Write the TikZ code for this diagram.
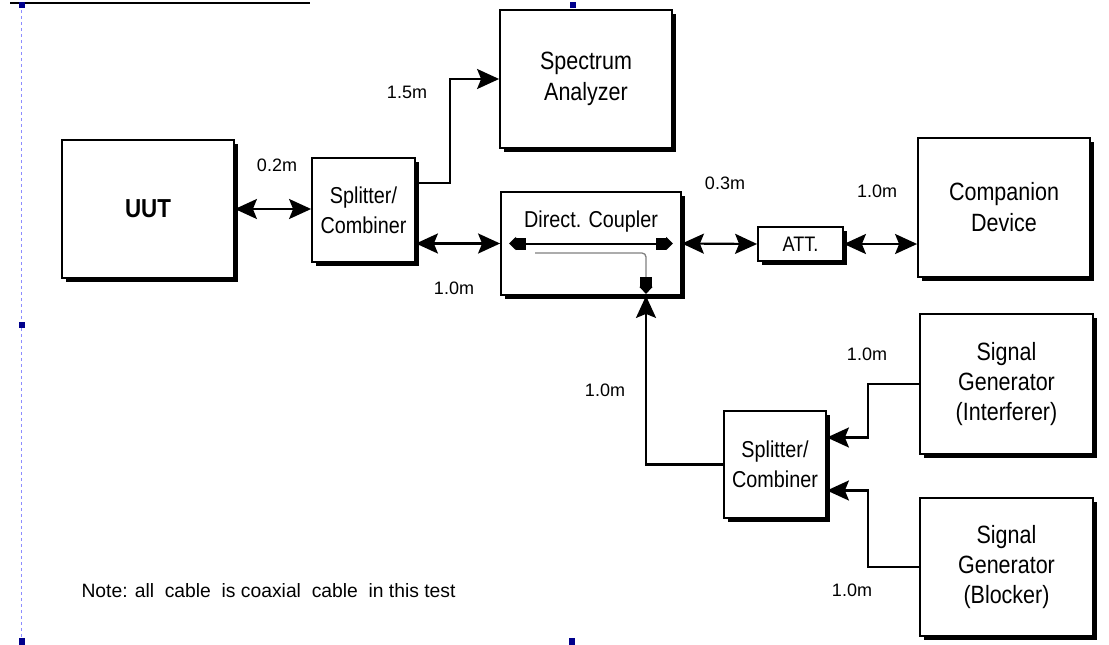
\documentclass[tikz,border=0pt]{standalone}
\usepackage{fontspec}
\setmainfont{Liberation Sans}
\newfontfamily\narrowsf[FakeStretch=0.86]{Liberation Sans}
\usetikzlibrary{arrows.meta,shadows}

\begin{document}
\begin{tikzpicture}[x=1pt,y=-1pt,>={Stealth[length=22pt,width=20pt,inset=4pt]},
  pnt/.tip={Rectangle[length=10pt,width=12pt]Triangle[length=7pt,width=13pt]},
  blk/.style={draw=black,line width=1.8pt,fill=white,align=center,inner sep=0pt,
    drop shadow={shadow xshift=4pt,shadow yshift=-4pt,fill=black,opacity=1}},
  bigblk/.style={blk,minimum width=172pt,minimum height=138pt,
    font=\narrowsf\fontsize{25}{31}\selectfont},
  smlblk/.style={blk,font=\narrowsf\fontsize{23}{30}\selectfont},
  cable/.style={line width=2.2pt},
  len/.style={font=\fontsize{18}{20}\selectfont},
]

\useasboundingbox (0,0) rectangle (1109,645);

% ------------------------------------------------------------------
% page marks of the screenshot
% ------------------------------------------------------------------
\draw[line width=2.5pt] (10,3) -- (310,3);
\draw[dashed,blue!45,line width=0.8pt] (21,10) -- (21,645);
\fill[blue!55!black] (19,2) rectangle (25,8);
\fill[blue!55!black] (570,2) rectangle (576,8);
\fill[blue!55!black] (19,322) rectangle (25,328);
\fill[blue!55!black] (19,638) rectangle (25,645);
\fill[blue!55!black] (569,638) rectangle (575,645);

% ------------------------------------------------------------------
% blocks
% ------------------------------------------------------------------
\node[bigblk,font=\narrowsf\bfseries\fontsize{26}{31}\selectfont] (uut) at (148,209) {UUT};
\node[smlblk,minimum width=103pt,minimum height=104pt] (spl1) at (363.5,210) {Splitter/\\Combiner};
\node[bigblk] (sa) at (586,79) {Spectrum\\Analyzer};
\node[blk,minimum width=180pt,minimum height=103pt] (dc) at (591,243.5) {};
\node[font=\narrowsf\fontsize{23}{30}\selectfont] (dclbl) at ([yshift=-30pt]dc.north) {Direct. Coupler};
\node[smlblk,font=\narrowsf\fontsize{21}{25}\selectfont,
  minimum width=85pt,minimum height=34pt] (att) at (800.5,244) {ATT.};
\node[bigblk,minimum height=139pt] (cd) at (1004,207.5) {Companion\\Device};
\node[bigblk,minimum width=173pt,minimum height=140pt,
  font=\narrowsf\fontsize{25}{30}\selectfont] (sgi) at (1006.5,384) {Signal\\Generator\\(Interferer)};
\node[bigblk,minimum width=173pt,
  font=\narrowsf\fontsize{25}{30}\selectfont] (sgb) at (1006.5,567) {Signal\\Generator\\(Blocker)};
\node[smlblk,minimum width=102pt,minimum height=107pt] (spl2) at (775,464.5) {Splitter/\\Combiner};

% ------------------------------------------------------------------
% cables
% ------------------------------------------------------------------
\draw[cable,<->] (uut.east) -- (uut.east -| spl1.west);
\draw[cable,->] ([yshift=27pt]spl1.east) -- ++(34,0) |- (sa.west);
\draw[cable,<->] (spl1.east |- dc.west) -- (dc.west);
\draw[cable,<->] (dc.east) -- (att.west);
\draw[cable,<->] (att.east) -- (att.east -| cd.west);
\draw[cable,->] (sgi.west) -- ++(-51,0) |- ([yshift=27pt]spl2.east);
\draw[cable,->] (sgb.west) -- ++(-51,0) |- ([yshift=-26pt]spl2.east);
\draw[cable,->] (spl2.west) -| ([xshift=55pt]dc.south);

% inside the coupler
\draw[line width=2pt,{pnt}-{pnt}] ([xshift=-82pt]dc.center) -- ([xshift=82pt]dc.center);
\draw[gray,line width=1.3pt,rounded corners=4pt,-{pnt[black]}]
  ([shift={(-56,9.5)}]dc.center) -| ([shift={(55,-2)}]dc.south);

% ------------------------------------------------------------------
% cable lengths
% ------------------------------------------------------------------
\node[len] (l02) at (277,165) {0.2m};
\node[len] (l15) at (407,92) {1.5m};
\node[len] (l10a) at (454,288) {1.0m};
\node[len] (l03) at (725,183) {0.3m};
\node[len] (l10b) at (877,191) {1.0m};
\node[len] (l10c) at (605,390) {1.0m};
\node[len] (l10d) at (867,354) {1.0m};
\node[len] (l10e) at (852,590) {1.0m};

\node[len,anchor=west,font=\fontsize{19.3}{21}\selectfont] (note) at (78,591)
  {Note: all\ \ cable\ \ is coaxial\ \ cable\ \ in this test};

\end{tikzpicture}
\end{document}
